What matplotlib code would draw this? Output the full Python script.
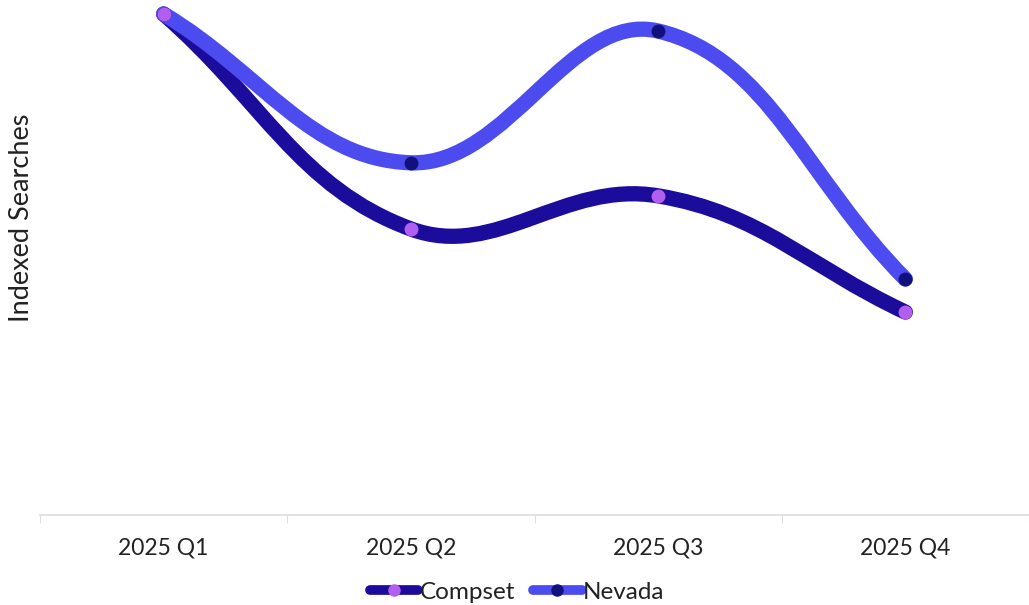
import numpy as np
import matplotlib.pyplot as plt
from matplotlib.path import Path
from matplotlib.patches import PathPatch
from matplotlib.lines import Line2D

plt.rcParams['font.family'] = ['Lato', 'DejaVu Sans']

quarters = ['2025 Q1', '2025 Q2', '2025 Q3', '2025 Q4']
compset = [100.0, 57.1, 63.7, 40.5]
nevada = [100.0, 70.3, 96.6, 47.1]

compset_line = '#1c0c9c'
compset_dot = '#b25ff0'
nevada_line = '#4b4bf0'
nevada_dot = '#12107c'

W, H = 1029, 605
fig = plt.figure(figsize=(W / 100, H / 100), dpi=100)
ax = fig.add_axes([40 / W, (H - 515) / H, (W - 40) / W, (515 - 14) / H])
ax.set_xlim(-0.5, len(quarters) - 0.5)
ax.set_ylim(0, 100)


def smooth_path(xs, ys, tension=0.4):
    # bezier control points in pixel space, chart.js style spline
    pts = ax.transData.transform(np.column_stack([xs, ys]))
    n = len(pts)
    verts = [pts[0]]
    codes = [Path.MOVETO]
    cps = []
    for i in range(n):
        prev = pts[max(i - 1, 0)]
        nxt = pts[min(i + 1, n - 1)]
        cur = pts[i]
        d01 = np.hypot(*(cur - prev))
        d12 = np.hypot(*(nxt - cur))
        tot = d01 + d12
        s01 = d01 / tot if tot else 0
        s12 = d12 / tot if tot else 0
        cps.append((cur - tension * s01 * (nxt - prev),
                    cur + tension * s12 * (nxt - prev)))
    for i in range(1, n):
        verts += [cps[i - 1][1], cps[i][0], pts[i]]
        codes += [Path.CURVE4] * 3
    verts = ax.transData.inverted().transform(np.array(verts))
    return Path(verts, codes)


x = np.arange(len(quarters))
for vals, lc in [(compset, compset_line), (nevada, nevada_line)]:
    ax.add_patch(PathPatch(smooth_path(x, vals, 0.4), facecolor='none',
                           edgecolor=lc, lw=11, capstyle='round',
                           clip_on=False, zorder=2))

ax.scatter(x, nevada, s=100, color=nevada_dot, zorder=3, clip_on=False,
           linewidths=0)
ax.scatter(x, compset, s=100, color=compset_dot, zorder=3, clip_on=False,
           linewidths=0)

for side in ['top', 'right', 'left']:
    ax.spines[side].set_visible(False)
ax.spines['bottom'].set_color('#dddddd')
ax.spines['bottom'].set_linewidth(1.2)
ax.set_yticks([])
ax.set_xticks(np.arange(-0.5, len(quarters)), minor=False)
ax.set_xticklabels([])
ax.set_xticks(x, minor=True)
ax.set_xticklabels(quarters, minor=True, fontsize=16.5, color='#222222')
ax.tick_params(axis='x', which='major', length=6, color='#dddddd')
ax.tick_params(axis='x', which='minor', length=0, pad=16)

fig.text(22 / W, (H - 218) / H, 'Indexed Searches', rotation=90,
         fontsize=19.5, color='#222222', ha='center', va='center')

handles = [
    Line2D([], [], color=compset_line, lw=7, marker='o', markersize=9,
           markerfacecolor=compset_dot, markeredgewidth=0,
           solid_capstyle='round'),
    Line2D([], [], color=nevada_line, lw=7, marker='o', markersize=9,
           markerfacecolor=nevada_dot, markeredgewidth=0,
           solid_capstyle='round'),
]
fig.legend(handles, ['Compset', 'Nevada'], loc='center',
           bbox_to_anchor=(517 / W, (H - 592) / H), ncol=2, frameon=False,
           fontsize=17.5, handlelength=2.0, handletextpad=0.05,
           columnspacing=0.75, labelcolor='#222222')

fig.savefig('out.png', dpi=100)
